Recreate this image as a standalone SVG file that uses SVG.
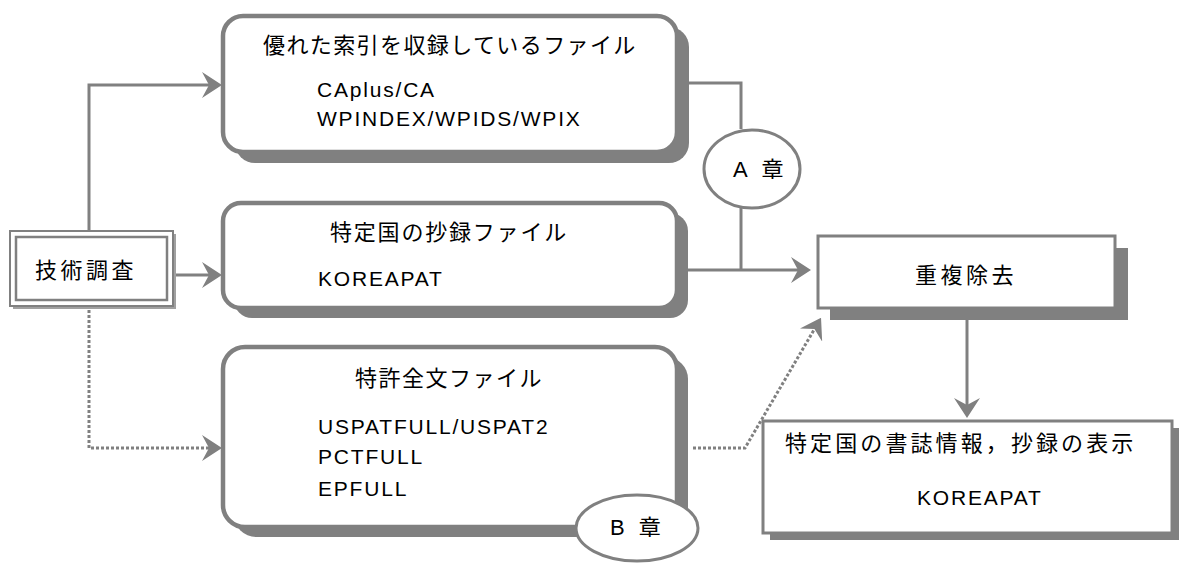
<svg xmlns="http://www.w3.org/2000/svg" width="1181" height="563" viewBox="0 0 1181 563">
<style>
.shadow{fill:#808080;stroke:none}
.box{fill:#fff;stroke:#808080;stroke-width:4.5}
.sq{fill:#fff;stroke:#808080;stroke-width:3}
.ell{fill:#fff;stroke:#808080;stroke-width:3}
.ln{fill:none;stroke:#808080;stroke-width:3}
.dot{fill:none;stroke:#808080;stroke-width:3;stroke-dasharray:3 2}
.jp{font-family:"Liberation Sans","Noto Sans CJK JP",sans-serif;font-size:22px;fill:#000}
.en{font-family:"Liberation Sans","Noto Sans CJK JP",sans-serif;font-size:21px;letter-spacing:1.8px;fill:#000}
</style>
<defs>
<marker id="ah" markerUnits="userSpaceOnUse" viewBox="0 -13 20 26" markerWidth="20" markerHeight="26" refX="14" refY="0" orient="auto">
<path d="M0,-13 L20,0 L0,13 L7,0 Z" fill="#808080"/>
</marker>
</defs>
<g id="connectors">
<polyline class="ln" points="89,231 89,85 216,85" marker-end="url(#ah)"/>
<line class="ln" x1="175" y1="275" x2="216" y2="275" marker-end="url(#ah)"/>
<polyline class="dot" points="89,310 89,448 216,448" marker-end="url(#ah)"/>
<polyline class="ln" points="677,83 741,83 741,129"/>
<line class="ln" x1="741" y1="208" x2="741" y2="270"/>
<line class="ln" x1="680" y1="270" x2="805" y2="270" marker-end="url(#ah)"/>
<polyline class="dot" points="693,448 745,448 818,323" marker-end="url(#ah)"/>
<line class="ln" x1="967" y1="320" x2="967" y2="412" marker-end="url(#ah)"/>
</g>
<g id="node-tech">
<rect x="13" y="234" width="163" height="75" style="fill:#a0a0a0"/>
<rect x="10" y="231" width="163" height="75" fill="#fff" stroke="#808080" stroke-width="2"/>
<rect x="16" y="237" width="151" height="63" fill="none" stroke="#808080" stroke-width="2.5"/>
<text class="jp" x="35" y="278" style="letter-spacing:3.5px">技術調査</text>
</g>
<g id="node-index">
<rect class="shadow" x="235" y="27" width="454" height="136" rx="20"/>
<rect class="box" x="223" y="16" width="454" height="136" rx="20"/>
<text class="jp" x="263" y="53" style="letter-spacing:1.4px">優れた索引を収録しているファイル</text>
<text class="en" x="317" y="97">CAplus/CA</text>
<text class="en" x="317" y="126">WPINDEX/WPIDS/WPIX</text>
</g>
<g id="node-chapterA">
<ellipse class="ell" cx="752" cy="169" rx="48" ry="39"/>
<text class="en" x="733" y="177" style="font-size:22px;letter-spacing:4.5px">A 章</text>
</g>
<g id="node-abstract">
<rect class="shadow" x="234" y="213" width="454" height="105" rx="18"/>
<rect class="box" x="223" y="203" width="454" height="105" rx="18"/>
<text class="jp" x="330" y="240" style="letter-spacing:1.8px">特定国の抄録ファイル</text>
<text class="en" x="318" y="286">KOREAPAT</text>
</g>
<g id="node-fulltext">
<rect class="shadow" x="234" y="357" width="454" height="180" rx="22"/>
<rect class="box" x="223" y="347" width="454" height="180" rx="22"/>
<text class="jp" x="355" y="386" style="letter-spacing:1.5px">特許全文ファイル</text>
<text class="en" x="318" y="434">USPATFULL/USPAT2</text>
<text class="en" x="318" y="464">PCTFULL</text>
<text class="en" x="318" y="496">EPFULL</text>
</g>
<g id="node-chapterB">
<ellipse class="ell" cx="637" cy="528" rx="61" ry="33"/>
<text class="en" x="610" y="535" style="font-size:22px;letter-spacing:4px">B 章</text>
</g>
<g id="node-dedup">
<rect class="shadow" x="830" y="248" width="298" height="72"/>
<rect class="sq" x="818" y="236" width="297" height="72"/>
<text class="jp" x="915" y="283" style="letter-spacing:3.5px">重複除去</text>
</g>
<g id="node-display">
<rect class="shadow" x="770" y="428" width="409" height="112"/>
<rect class="sq" x="763" y="421" width="409" height="112"/>
<text class="jp" x="785" y="451" style="letter-spacing:3.1px">特定国の書誌情報，抄録の表示</text>
<text class="en" x="917" y="505">KOREAPAT</text>
</g>
</svg>
